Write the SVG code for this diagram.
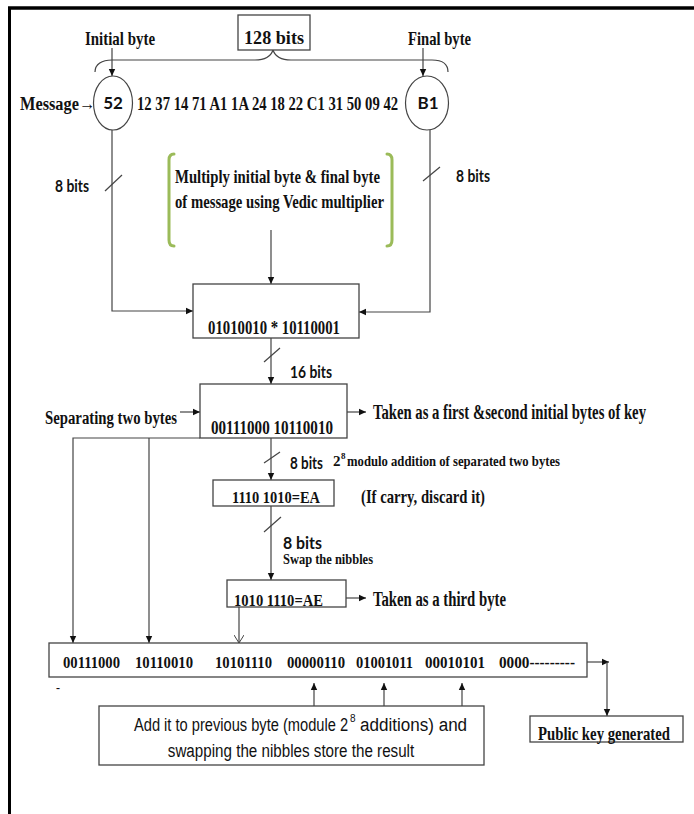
<svg xmlns="http://www.w3.org/2000/svg" width="694" height="814" viewBox="0 0 694 814">
<defs>
<marker id="ah" markerWidth="8" markerHeight="8" refX="7" refY="4" orient="auto" markerUnits="userSpaceOnUse">
<path d="M0,0.8 L7,4 L0,7.2 Z" fill="#111"/>
</marker>
<marker id="av" markerWidth="10" markerHeight="10" refX="8" refY="5" orient="auto" markerUnits="userSpaceOnUse">
<path d="M0,0 L8,5 L0,10" fill="none" stroke="#444" stroke-width="1"/>
</marker>
</defs>
<style>
.s{font-family:"Liberation Serif","Times New Roman",serif;font-weight:bold;fill:#111}
.n{font-family:Lato,"Liberation Sans",sans-serif;font-weight:bold;fill:#111}
.a{font-family:"Liberation Sans",Arial,sans-serif;fill:#111}
.box{fill:#fff;stroke:#444;stroke-width:1.3}
.ln{fill:none;stroke:#444;stroke-width:1.2}
.gb{fill:none;stroke:#9bbb59;stroke-width:3;stroke-linecap:round}
</style>
<rect width="694" height="814" fill="#fff"/>
<g id="frame">
<line x1="8" y1="8" x2="694" y2="8" stroke="#000" stroke-width="3.5"/>
<line x1="9.5" y1="7" x2="9.5" y2="814" stroke="#000" stroke-width="3"/>
</g>
<g id="connectors">
<path class="ln" d="M95,72 C95,64 102,60 112,60 L255,60 C265,60 271,56 273,50 C275,56 281,60 291,60 L432,60 C442,60 448,64 448,72"/>
<line class="ln" x1="112" y1="48" x2="112" y2="76" marker-end="url(#ah)"/>
<line class="ln" x1="423" y1="48" x2="423" y2="76" marker-end="url(#ah)"/>
<path class="ln" d="M112,130 L112,311 L193,311" marker-end="url(#ah)"/>
<path class="ln" d="M430,130 L430,312 L359,312" marker-end="url(#ah)"/>
<line class="ln" x1="105" y1="191" x2="122" y2="175"/>
<line class="ln" x1="423" y1="181" x2="440" y2="167"/>
<line class="ln" x1="271" y1="230" x2="271" y2="284" marker-end="url(#ah)"/>
<line class="ln" x1="271" y1="338" x2="271" y2="384" marker-end="url(#ah)"/>
<line class="ln" x1="264" y1="362" x2="280" y2="348"/>
<line class="ln" x1="180" y1="412" x2="200" y2="412" marker-end="url(#ah)"/>
<line class="ln" x1="347" y1="412" x2="366" y2="412" marker-end="url(#ah)"/>
<path class="ln" d="M200,438 L73,438 L73,643" marker-end="url(#ah)"/>
<line class="ln" x1="149" y1="438" x2="149" y2="643" marker-end="url(#ah)"/>
<line class="ln" x1="271" y1="438" x2="271" y2="480" marker-end="url(#ah)"/>
<line class="ln" x1="264" y1="463" x2="280" y2="452"/>
<line class="ln" x1="271" y1="506" x2="271" y2="580" marker-end="url(#ah)"/>
<line class="ln" x1="264" y1="532" x2="281" y2="517"/>
<line class="ln" x1="346" y1="598" x2="366" y2="598" marker-end="url(#ah)"/>
<line class="ln" x1="239" y1="607" x2="239" y2="643" marker-end="url(#av)"/>
<line class="ln" x1="314" y1="706" x2="314" y2="683" marker-end="url(#ah)"/>
<line class="ln" x1="384" y1="706" x2="384" y2="683" marker-end="url(#ah)"/>
<line class="ln" x1="462" y1="706" x2="462" y2="683" marker-end="url(#ah)"/>
<line class="ln" x1="587" y1="662" x2="609" y2="662" marker-end="url(#ah)"/>
<line class="ln" x1="607" y1="662" x2="607" y2="716" marker-end="url(#ah)"/>
</g>
<g id="bits128">
<rect class="box" x="238" y="15" width="72" height="35"/>
<text class="s" x="274" y="44" font-size="19" text-anchor="middle" textLength="60" lengthAdjust="spacingAndGlyphs">128 bits</text>
</g>
<g id="initial-label"><text class="s" x="85" y="45" font-size="19" textLength="70" lengthAdjust="spacingAndGlyphs">Initial byte</text></g>
<g id="final-label"><text class="s" x="408" y="45" font-size="19" textLength="63" lengthAdjust="spacingAndGlyphs">Final byte</text></g>
<g id="message">
<text class="s" transform="translate(20,110) scale(0.8,1)" x="0" y="0" font-size="19" textLength="94" lengthAdjust="spacingAndGlyphs">Message→</text>
<text class="s" transform="translate(137,110) scale(0.768,1)" x="0" y="0" font-size="19" textLength="340" lengthAdjust="spacingAndGlyphs">12 37 14 71 A1 1A 24 18 22 C1 31 50 09 42</text>
</g>
<g id="byte52">
<ellipse cx="113" cy="103" rx="19.5" ry="27" fill="#fff" stroke="#444" stroke-width="1.2"/>
<text class="n" x="113" y="109" font-size="17" text-anchor="middle">52</text>
</g>
<g id="byteB1">
<ellipse cx="427" cy="103" rx="21.5" ry="27" fill="#fff" stroke="#444" stroke-width="1.2"/>
<text class="n" x="428" y="109" font-size="17" text-anchor="middle">B1</text>
</g>
<g id="bits8-left"><text class="n" x="55" y="192" font-size="17" textLength="34" lengthAdjust="spacingAndGlyphs">8 bits</text></g>
<g id="bits8-right"><text class="n" x="456" y="182" font-size="17" textLength="34" lengthAdjust="spacingAndGlyphs">8 bits</text></g>
<g id="note-multiply">
<path class="gb" d="M174,154 Q169,154 169,160 L169,240 Q169,246 174,246"/>
<path class="gb" d="M387,154 Q392,154 392,160 L392,240 Q392,246 387,246"/>
<text class="s" x="175" y="183" font-size="19" textLength="205" lengthAdjust="spacingAndGlyphs">Multiply initial byte &amp; final byte</text>
<text class="s" x="175" y="208" font-size="19" textLength="209" lengthAdjust="spacingAndGlyphs">of message using Vedic multiplier</text>
</g>
<g id="product">
<rect class="box" x="193" y="284" width="166" height="54"/>
<text class="s" x="208" y="334" font-size="18" textLength="132" lengthAdjust="spacingAndGlyphs">01010010 * 10110001</text>
</g>
<g id="bits16"><text class="n" x="290" y="378" font-size="17" textLength="42" lengthAdjust="spacingAndGlyphs">16 bits</text></g>
<g id="separated">
<rect class="box" x="200" y="384" width="147" height="54"/>
<text class="s" x="211" y="434" font-size="18" textLength="122" lengthAdjust="spacingAndGlyphs">00111000  10110010</text>
</g>
<g id="sep-label"><text class="s" x="45" y="424" font-size="18" textLength="132" lengthAdjust="spacingAndGlyphs">Separating two bytes</text></g>
<g id="first-second"><text class="s" transform="translate(373,419) scale(0.78,1)" x="0" y="0" font-size="20" textLength="350" lengthAdjust="spacingAndGlyphs">Taken as a first &amp;second initial bytes of key</text></g>
<g id="bits8-a"><text class="n" x="290" y="469" font-size="17" textLength="33" lengthAdjust="spacingAndGlyphs">8 bits</text></g>
<g id="modulo-label">
<text class="s" x="333" y="466" font-size="15">2</text>
<text class="s" x="341" y="459" font-size="9">8</text>
<text class="s" x="347" y="466" font-size="15" textLength="213" lengthAdjust="spacingAndGlyphs">modulo addition of separated two bytes</text>
</g>
<g id="ea">
<rect class="box" x="213" y="480" width="121" height="26"/>
<text class="s" x="232" y="503" font-size="17" textLength="88" lengthAdjust="spacingAndGlyphs">1110 1010=EA</text>
</g>
<g id="carry"><text class="s" x="361" y="503" font-size="19" textLength="124" lengthAdjust="spacingAndGlyphs">(If carry, discard it)</text></g>
<g id="bits8-b">
<text class="n" x="283" y="549" font-size="17" textLength="39" lengthAdjust="spacingAndGlyphs">8 bits</text>
<text class="s" x="283" y="564" font-size="14" textLength="90" lengthAdjust="spacingAndGlyphs">Swap the nibbles</text>
</g>
<g id="ae">
<rect class="box" x="227" y="580" width="119" height="27"/>
<text class="s" x="234" y="606" font-size="17" textLength="89" lengthAdjust="spacingAndGlyphs">1010 1110=AE</text>
</g>
<g id="third"><text class="s" x="373" y="606" font-size="20" textLength="133" lengthAdjust="spacingAndGlyphs">Taken as a third byte</text></g>
<g id="key-bytes">
<rect class="box" x="49" y="643" width="538" height="34"/>
<text class="s" y="668" font-size="17">
<tspan x="63" textLength="57" lengthAdjust="spacingAndGlyphs">00111000</tspan>
<tspan x="135" textLength="58" lengthAdjust="spacingAndGlyphs">10110010</tspan>
<tspan x="215" textLength="57" lengthAdjust="spacingAndGlyphs">10101110</tspan>
<tspan x="287" textLength="58" lengthAdjust="spacingAndGlyphs">00000110</tspan>
<tspan x="356" textLength="57" lengthAdjust="spacingAndGlyphs">01001011</tspan>
<tspan x="425" textLength="60" lengthAdjust="spacingAndGlyphs">00010101</tspan>
</text>
<text class="s" x="499" y="668" font-size="17" textLength="76" lengthAdjust="spacingAndGlyphs">0000---------</text>
<text class="s" x="56" y="692" font-size="12">-</text>
</g>
<g id="add-note">
<rect class="box" x="99" y="706" width="385" height="59"/>
<text class="a" transform="translate(134,731) scale(0.77,1)" x="0" y="0" font-size="19" textLength="278" lengthAdjust="spacingAndGlyphs">Add it to previous byte (module 2</text>
<text class="a" x="350" y="722" font-size="10">8</text>
<text class="a" transform="translate(360,731) scale(0.9,1)" x="0" y="0" font-size="19" textLength="119" lengthAdjust="spacingAndGlyphs">additions) and</text>
<text class="a" transform="translate(291,757) scale(0.8,1)" x="0" y="0" font-size="19" text-anchor="middle" textLength="308" lengthAdjust="spacingAndGlyphs">swapping the nibbles store the result</text>
</g>
<g id="public-key">
<rect class="box" x="530" y="716" width="153" height="26"/>
<text class="s" transform="translate(538,740) scale(0.8,1)" x="0" y="0" font-size="18" textLength="165" lengthAdjust="spacingAndGlyphs">Public key generated</text>
</g>
</svg>
